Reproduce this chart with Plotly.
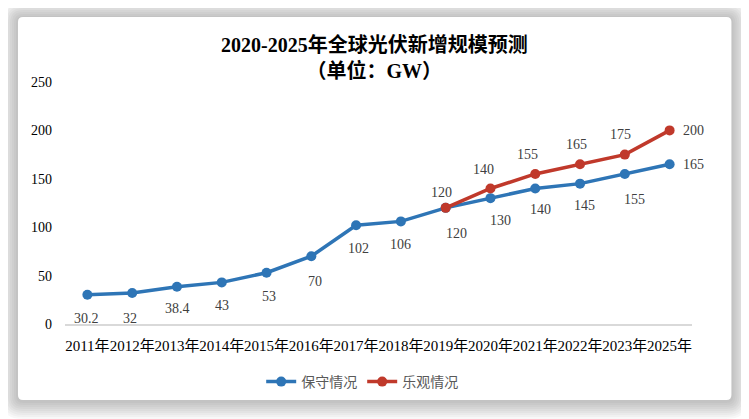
import plotly.graph_objects as go

# ---------------- data ----------------
years = ["2011年", "2012年", "2013年", "2014年", "2015年", "2016年", "2017年",
         "2018年", "2019年", "2020年", "2021年", "2022年", "2023年", "2025年"]
conservative = [30.2, 32, 38.4, 43, 53, 70, 102, 106, 120, 130, 140, 145, 155, 165]
opt_years = ["2019年", "2020年", "2021年", "2022年", "2023年", "2025年"]
optimistic = [120, 140, 155, 165, 175, 200]
y_ticks = [0, 50, 100, 150, 200, 250]

# ---------------- style ----------------
OFF = 8  # page body margin
W, H = 749 - OFF, 419 - OFF
# plot area in screen pixels: x 65..691.6, y 82..324
ML, MR, MT, MB = 65 - OFF, 749 - 691.6, 82 - OFF, 419 - 324
BLUE = "#2E75B6"
RED = "#C0392B"
SERIF = "Liberation Serif, Times New Roman, Noto Sans CJK SC, serif"
LABEL_COLOR = "#404040"

PW, PH = W - ML - MR, H - MT - MB


def px(xs):
    # screen x -> paper
    return (xs - OFF - ML) / PW


def py(ys):
    # screen y -> paper
    return (H - MB - (ys - OFF)) / PH


# label offsets in pixels (dx right, dy down)
blue_off = [(-1, 24), (-2, 25), (1, 22), (0, 23), (2, 24), (4, 25), (2, 23),
            (0, 23), (11, 26), (10, 22), (5, 21), (4, 22), (10, 26), (24, 0)]
red_off = [(-4, -15), (-7, -19), (-8, -19), (-4, -20), (-4, -20), (24, 0)]

fig = go.Figure()
fig.add_trace(go.Scatter(x=years, y=conservative, mode="lines+markers", name="保守情况",
                         line=dict(color=BLUE, width=3.5), marker=dict(size=10, color=BLUE),
                         cliponaxis=False))
fig.add_trace(go.Scatter(x=opt_years, y=optimistic, mode="lines+markers", name="乐观情况",
                         line=dict(color=RED, width=3.5), marker=dict(size=10, color=RED),
                         cliponaxis=False))

annotations = []
for xv, yv, (dx, dy) in zip(years, conservative, blue_off):
    annotations.append(dict(x=xv, y=yv, xref="x", yref="y", text=f"{yv:g}", showarrow=False,
                            xshift=dx, yshift=-dy,
                            font=dict(family=SERIF, size=14, color=LABEL_COLOR)))
for xv, yv, (dx, dy) in zip(opt_years, optimistic, red_off):
    annotations.append(dict(x=xv, y=yv, xref="x", yref="y", text=f"{yv:g}", showarrow=False,
                            xshift=dx, yshift=-dy,
                            font=dict(family=SERIF, size=14, color=LABEL_COLOR)))

# title
annotations.append(dict(x=px(374), y=py(57), xref="paper", yref="paper", showarrow=False,
                        xanchor="center", yanchor="middle",
                        text="<b>2020-2025年全球光伏新增规模预测</b><br><b>（单位：GW）</b>",
                        font=dict(family=SERIF, size=20, color="#000000")))


def rrect(x0, y0, x1, y1, r):
    return (f"M {px(x0 + r)} {py(y0)} L {px(x1 - r)} {py(y0)} "
            f"Q {px(x1)} {py(y0)} {px(x1)} {py(y0 + r)} "
            f"L {px(x1)} {py(y1 - r)} Q {px(x1)} {py(y1)} {px(x1 - r)} {py(y1)} "
            f"L {px(x0 + r)} {py(y1)} Q {px(x0)} {py(y1)} {px(x0)} {py(y1 - r)} "
            f"L {px(x0)} {py(y0 + r)} Q {px(x0)} {py(y0)} {px(x0 + r)} {py(y0)} Z")


shapes = []
cx0, cy0, cx1, cy1 = 18, 17, 731, 400
for k in range(9, 0, -1):
    e = k * 2
    shapes.append(dict(type="path", xref="paper", yref="paper", layer="below",
                       path=rrect(cx0 - e, cy0 - e + 1, cx1 + e, cy1 + e + 1, 5 + e),
                       fillcolor="rgba(0,0,0,0.028)", line=dict(width=0)))
shapes.append(dict(type="path", xref="paper", yref="paper", layer="below",
                   path=rrect(cx0, cy0, cx1, cy1, 5),
                   fillcolor="#FFFFFF", line=dict(width=0)))

fig.update_layout(
    width=W, height=H,
    margin=dict(l=ML, r=MR, t=MT, b=MB, autoexpand=False),
    paper_bgcolor="#FFFFFF", plot_bgcolor="rgba(0,0,0,0)",
    showlegend=True,
    legend=dict(orientation="h", x=px(362), xanchor="center",
                y=py(382), yanchor="middle",
                font=dict(family=SERIF, size=14, color="#595959"),
                itemwidth=30, bgcolor="rgba(0,0,0,0)"),
    xaxis=dict(type="category", categoryorder="array", categoryarray=years,
               range=[-0.5, len(years) - 0.5],
               showgrid=False, showline=True, linecolor="#D9D9D9", linewidth=1.5,
               ticks="", ticklabelstandoff=7, zeroline=False, tickangle=0,
               automargin=False,
               tickfont=dict(family=SERIF, size=15, color="#000000")),
    yaxis=dict(range=[0, 250], tickvals=y_ticks, showgrid=False, showline=False,
               zeroline=False, ticks="", ticklabelstandoff=12, automargin=False,
               tickfont=dict(family=SERIF, size=14, color="#000000")),
    annotations=annotations,
    shapes=shapes,
)

fig.write_html("out.html")
